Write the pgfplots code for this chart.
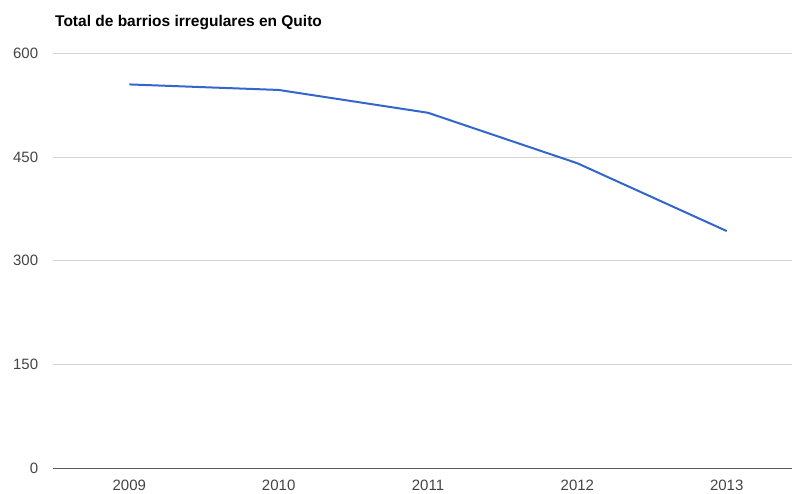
\documentclass[border=0pt]{standalone}
\usepackage{fontspec}
\setmainfont{Liberation Sans}
\usepackage{pgfplots}
\pgfplotsset{compat=1.18}
\definecolor{gline}{HTML}{3366CC}
\definecolor{ggrid}{HTML}{D4D4D4}
\definecolor{glabel}{HTML}{444444}
\definecolor{gaxis}{HTML}{5A5A5A}
\begin{document}
\begin{tikzpicture}
\begin{axis}[
  scale only axis,
  width=739pt, height=415pt,
  xmin=2008.489, xmax=2013.437,
  ymin=0, ymax=600,
  xtick={2009,2010,2011,2012,2013},
  xticklabels={2009,2010,2011,2012,2013},
  ytick={0,150,300,450,600},
  ymajorgrids,
  grid style={ggrid, line width=1pt},
  axis lines*=left,
  y axis line style={draw=none},
  x axis line style={gaxis, line width=1.3pt},
  major tick length=0pt,
  tick label style={font=\fontsize{15}{15}\selectfont, text=glabel},
  /pgf/number format/assume math mode=true,
  /pgf/number format/1000 sep={},
  xticklabel style={anchor=north, inner sep=0pt, yshift=-12pt},
  yticklabel style={anchor=east, inner sep=0pt, xshift=-14.7pt},
  clip=false,
]
\coordinate (sw) at (rel axis cs:0,0);
\addplot[gline, line width=2pt, mark=none] coordinates {
  (2009,555) (2010,547) (2011,514) (2012,441) (2013,343)
};
\node[anchor=base west, inner sep=0pt, font=\bfseries\fontsize{15.5}{15.5}\selectfont, xshift=2pt, yshift=26.8pt] at (rel axis cs:0,1) {Total de barrios irregulares en Quito};
\end{axis}
\pgfresetboundingbox
\path[use as bounding box] (sw) ++(-53pt,-24.7pt) rectangle ++(792pt,493pt);
\end{tikzpicture}
\end{document}
